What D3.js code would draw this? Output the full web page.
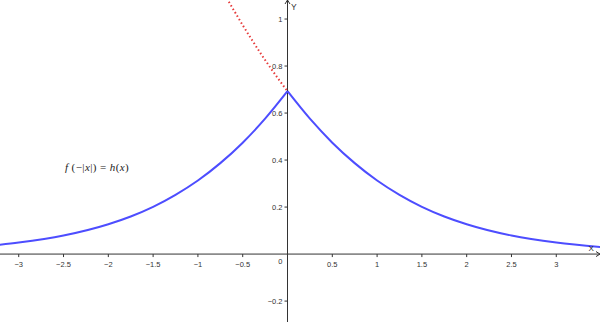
<!DOCTYPE html>
<html>
<head>
<meta charset="utf-8">
<script src="https://cdn.jsdelivr.net/npm/d3@7"></script>
<style>
  body { margin: 0; background: #fff; }
</style>
</head>
<body>
<svg id="plot"></svg>
<script>
// values (blue curve h(x), red dotted branch)
var blueX = [-3.3, -3, -2.5, -2, -1.75, -1.5, -1.25, -1, -0.75, -0.5, -0.25, 0,
             0.25, 0.5, 0.75, 1, 1.25, 1.5, 1.75, 2, 2.5, 3, 3.5];
var blueY = [0.036, 0.049, 0.079, 0.127, 0.160, 0.201, 0.252, 0.313, 0.387, 0.474, 0.576, 0.693,
             0.576, 0.474, 0.387, 0.313, 0.252, 0.201, 0.160, 0.127, 0.079, 0.049, 0.030];
var redX = [0, -0.1, -0.2, -0.3, -0.4, -0.5, -0.6, -0.7];
var redY = [0.693, 0.744, 0.798, 0.854, 0.913, 0.974, 1.038, 1.103];
var xTicks = [-3, -2.5, -2, -1.5, -1, -0.5, 0.5, 1, 1.5, 2, 2.5, 3];
var yTicks = [-0.2, 0.2, 0.4, 0.6, 0.8, 1];

var screen = {width:600, height:322};
var sans = "'Liberation Sans', Arial, sans-serif";

var svg = d3.select("#plot")
    .attr("width", screen.width)
    .attr("height", screen.height);

//scales: origin at (287.5, 254)
var xScale = d3.scaleLinear()
    .domain([-3.209, 3.488])
    .range([0, screen.width]);
var yScale = d3.scaleLinear()
    .domain([-0.289, 1.081])
    .range([screen.height, 0]);

var x0 = xScale(0), y0 = yScale(0);
var axisColor = "#333";

//x axis
svg.append("line")
    .attr("x1", 0).attr("x2", screen.width)
    .attr("y1", y0).attr("y2", y0)
    .attr("stroke", axisColor).attr("stroke-width", 1);
svg.append("path")
    .attr("d", "M" + (screen.width - 4) + "," + (y0 - 2.5) + "L" + screen.width + "," + y0 + "L" + (screen.width - 4) + "," + (y0 + 2.5))
    .attr("fill", "none").attr("stroke", axisColor);

//y axis
svg.append("line")
    .attr("x1", x0).attr("x2", x0)
    .attr("y1", 0).attr("y2", screen.height)
    .attr("stroke", axisColor).attr("stroke-width", 1);
svg.append("path")
    .attr("d", "M" + (x0 - 2.5) + ",4L" + x0 + ",0L" + (x0 + 2.5) + ",4")
    .attr("fill", "none").attr("stroke", axisColor);

//ticks and labels
svg.selectAll(".xt")
    .data(xTicks)
    .enter()
    .append("line")
    .attr("x1", function(d) { return xScale(d); })
    .attr("x2", function(d) { return xScale(d); })
    .attr("y1", y0).attr("y2", y0 + 3)
    .attr("stroke", axisColor);
svg.selectAll(".xl")
    .data(xTicks)
    .enter()
    .append("text")
    .attr("x", function(d) { return xScale(d); })
    .attr("y", y0 + 13)
    .attr("text-anchor", "middle")
    .attr("font-family", sans)
    .attr("font-size", 7.5)
    .attr("fill", axisColor)
    .text(function(d) { return d < 0 ? "\u2212" + Math.abs(d) : d; });

svg.selectAll(".yt")
    .data(yTicks)
    .enter()
    .append("line")
    .attr("x1", x0 - 3).attr("x2", x0)
    .attr("y1", function(d) { return yScale(d); })
    .attr("y2", function(d) { return yScale(d); })
    .attr("stroke", axisColor);
svg.selectAll(".yl")
    .data(yTicks)
    .enter()
    .append("text")
    .attr("x", x0 - 5)
    .attr("y", function(d) { return yScale(d) + 3; })
    .attr("text-anchor", "end")
    .attr("font-family", sans)
    .attr("font-size", 7.5)
    .attr("fill", axisColor)
    .text(function(d) { return d < 0 ? "\u2212" + Math.abs(d) : d; });

svg.append("text")
    .attr("x", x0 - 5).attr("y", y0 + 10)
    .attr("text-anchor", "end")
    .attr("font-family", sans)
    .attr("font-size", 7.5)
    .attr("fill", axisColor)
    .text("0");

//curves
var line = d3.line()
    .x(function(d) { return xScale(d[0]); })
    .y(function(d) { return yScale(d[1]); })
    .curve(d3.curveMonotoneX);

var redPts = d3.zip(redX, redY).reverse();
svg.append("path")
    .attr("d", line(redPts))
    .attr("fill", "none")
    .attr("stroke", "#e63a3a")
    .attr("stroke-width", 2)
    .attr("stroke-dasharray", "1.5,2.5");

var leftPts = d3.zip(blueX, blueY).filter(function(p) { return p[0] <= 0; });
var rightPts = d3.zip(blueX, blueY).filter(function(p) { return p[0] >= 0; });
[leftPts, rightPts].forEach(function(pts) {
    svg.append("path")
        .attr("d", line(pts))
        .attr("fill", "none")
        .attr("stroke", "#4d4dff")
        .attr("stroke-width", 2)
        .attr("stroke-linejoin", "round");
});

//axis names (drawn on top of the curve)
svg.append("text")
    .attr("x", 588.5).attr("y", y0 - 3.5)
    .attr("font-family", sans)
    .attr("font-size", 8).attr("fill", "#222")
    .text("X");
svg.append("text")
    .attr("x", x0 + 3.5).attr("y", 10)
    .attr("font-family", sans)
    .attr("font-size", 8.5).attr("fill", axisColor)
    .text("Y");

//formula label, latex style: italic letters, upright symbols
var formula = [["f", true], [" (\u2212|", false], ["x", true], ["|) = ", false], ["h", true], ["(", false], ["x", true], [")", false]];
var lbl = svg.append("text")
    .attr("x", 65).attr("y", 171)
    .attr("font-family", "'Liberation Serif', 'DejaVu Serif', serif")
    .attr("font-size", 11)
    .attr("letter-spacing", 0.4)
    .attr("fill", "#222");
lbl.selectAll("tspan")
    .data(formula)
    .enter()
    .append("tspan")
    .attr("font-style", function(d) { return d[1] ? "italic" : "normal"; })
    .text(function(d) { return d[0]; });
</script>
</body>
</html>
